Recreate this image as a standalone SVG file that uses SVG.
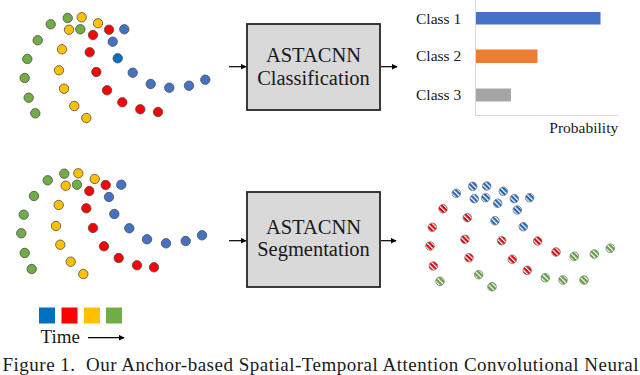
<svg xmlns="http://www.w3.org/2000/svg" width="640" height="375" viewBox="0 0 640 375">
<style>
text{font-family:'Liberation Serif',Tinos,'Times New Roman',Times,serif;fill:#1a1a1a}
.g{fill:#70ad47;stroke:#4d4d4d;stroke-width:0.8}
.y{fill:#ffc000;stroke:#4d4d4d;stroke-width:0.8}
.r{fill:#ff0000;stroke:#4d4d4d;stroke-width:0.8}
.b{fill:#4472c4;stroke:#4d4d4d;stroke-width:0.8}
.hb{fill:url(#hb);stroke:#7f7f7f;stroke-width:0.8}
.hr{fill:url(#hr);stroke:#7f7f7f;stroke-width:0.8}
.hg{fill:url(#hg);stroke:#7f7f7f;stroke-width:0.8}
.box{fill:#d9d9d9;stroke:#262626;stroke-width:1.8}
.ln{stroke:#000;stroke-width:1.2;fill:none}
.ax{stroke:#d9d9d9;stroke-width:1;fill:none}
</style>
<defs>
<marker id="ah" viewBox="0 0 10 10" refX="9" refY="5" markerWidth="6" markerHeight="6" markerUnits="userSpaceOnUse" orient="auto"><path d="M0,0 L10,5 L0,10 z" fill="#000"/></marker>
<pattern id="hb" patternUnits="userSpaceOnUse" width="3.5" height="3.5" patternTransform="rotate(-45)"><rect width="3.5" height="3.5" fill="#1f64b4"/><rect width="1.3" height="3.5" fill="#fff"/></pattern>
<pattern id="hr" patternUnits="userSpaceOnUse" width="3.5" height="3.5" patternTransform="rotate(-45)"><rect width="3.5" height="3.5" fill="#e00000"/><rect width="1.3" height="3.5" fill="#fff"/></pattern>
<pattern id="hg" patternUnits="userSpaceOnUse" width="3.5" height="3.5" patternTransform="rotate(-45)"><rect width="3.5" height="3.5" fill="#5f9e3a"/><rect width="1.3" height="3.5" fill="#fff"/></pattern>
</defs>
<rect width="640" height="375" fill="#fff"/>

<g id="input-top">
<circle class="g" cx="50.7" cy="24.3" r="4.7"/><circle class="g" cx="67.7" cy="18" r="4.7"/><circle class="g" cx="80.3" cy="29.3" r="4.7"/><circle class="g" cx="37.7" cy="40.3" r="4.7"/><circle class="g" cx="27.3" cy="59" r="4.7"/><circle class="g" cx="24.7" cy="78" r="4.7"/><circle class="g" cx="28.7" cy="97.7" r="4.7"/><circle class="g" cx="35.3" cy="113.3" r="4.7"/>
<circle class="y" cx="81.7" cy="17.3" r="4.7"/><circle class="y" cx="98" cy="23.3" r="4.7"/><circle class="y" cx="69" cy="29.7" r="4.7"/><circle class="y" cx="62" cy="49.3" r="4.7"/><circle class="y" cx="59" cy="70.3" r="4.7"/><circle class="y" cx="64" cy="88.7" r="4.7"/><circle class="y" cx="74.3" cy="106" r="4.7"/><circle class="y" cx="86.3" cy="118" r="4.7"/>
<circle class="r" cx="109" cy="29.7" r="4.7"/><circle class="r" cx="93" cy="35" r="4.7"/><circle class="r" cx="89.7" cy="52.3" r="4.7"/><circle class="r" cx="96.3" cy="72" r="4.7"/><circle class="r" cx="107" cy="90.3" r="4.7"/><circle class="r" cx="122.3" cy="102.3" r="4.7"/><circle class="r" cx="140.3" cy="109.3" r="4.7"/><circle class="r" cx="158" cy="112" r="4.7"/>
<circle class="b" cx="124.3" cy="29.3" r="4.7"/><circle class="b" cx="112.7" cy="41.7" r="4.7"/><circle class="b" cx="117.7" cy="58.3" r="4.7" style="fill:#0070c0"/><circle class="b" cx="132.7" cy="72.7" r="4.7"/><circle class="b" cx="150.7" cy="84" r="4.7"/><circle class="b" cx="169.3" cy="87.7" r="4.7"/><circle class="b" cx="189" cy="85.7" r="4.7"/><circle class="b" cx="205.3" cy="79.7" r="4.7"/>
</g>

<g id="input-bottom">
<circle class="g" cx="47.7" cy="180.3" r="4.7"/><circle class="g" cx="64.3" cy="173.7" r="4.7"/><circle class="g" cx="77" cy="184.7" r="4.7"/><circle class="g" cx="34" cy="196" r="4.7"/><circle class="g" cx="23.7" cy="214.7" r="4.7"/><circle class="g" cx="21.3" cy="233.3" r="4.7"/><circle class="g" cx="24.7" cy="253" r="4.7"/><circle class="g" cx="31.7" cy="269" r="4.7"/>
<circle class="y" cx="78.3" cy="173.3" r="4.7"/><circle class="y" cx="94.7" cy="179" r="4.7"/><circle class="y" cx="65.7" cy="185.7" r="4.7"/><circle class="y" cx="58.7" cy="205" r="4.7"/><circle class="y" cx="56" cy="226" r="4.7"/><circle class="y" cx="60.3" cy="244.7" r="4.7"/><circle class="y" cx="70.7" cy="261.7" r="4.7"/><circle class="y" cx="83.3" cy="274" r="4.7"/>
<circle class="r" cx="105.7" cy="185" r="4.7"/><circle class="r" cx="89.3" cy="191" r="4.7"/><circle class="r" cx="86.3" cy="208.3" r="4.7"/><circle class="r" cx="93" cy="228" r="4.7"/><circle class="r" cx="104" cy="246.3" r="4.7"/><circle class="r" cx="118.7" cy="258" r="4.7"/><circle class="r" cx="137" cy="265.3" r="4.7"/><circle class="r" cx="154" cy="267.3" r="4.7"/>
<circle class="b" cx="121.3" cy="184.7" r="4.7"/><circle class="b" cx="109" cy="197" r="4.7"/><circle class="b" cx="114.3" cy="214" r="4.7"/><circle class="b" cx="129.3" cy="228.3" r="4.7"/><circle class="b" cx="147" cy="239.3" r="4.7"/><circle class="b" cx="166" cy="243.3" r="4.7"/><circle class="b" cx="185.7" cy="241" r="4.7"/><circle class="b" cx="202" cy="235.3" r="4.7"/>
</g>

<g id="classification-box">
<rect class="box" x="247" y="24" width="133" height="86"/>
<text x="313.5" y="62" font-size="20.5" text-anchor="middle">ASTACNN</text>
<text x="313.5" y="85" font-size="20.5" text-anchor="middle">Classification</text>
</g>

<g id="segmentation-box">
<rect class="box" x="247" y="192" width="133" height="95"/>
<text x="313.5" y="234" font-size="20.5" text-anchor="middle">ASTACNN</text>
<text x="313.5" y="256" font-size="20.5" text-anchor="middle">Segmentation</text>
</g>

<g id="connectors">
<line class="ln" x1="229" y1="66.7" x2="246" y2="66.7" marker-end="url(#ah)"/>
<line class="ln" x1="381" y1="66.7" x2="397" y2="66.7" marker-end="url(#ah)"/>
<line class="ln" x1="229" y1="240.7" x2="246" y2="240.7" marker-end="url(#ah)"/>
<line class="ln" x1="381" y1="240.7" x2="396" y2="240.7" marker-end="url(#ah)"/>
</g>

<g id="probability-chart">
<line class="ax" x1="475.5" y1="0" x2="475.5" y2="115"/>
<line class="ax" x1="475" y1="115.5" x2="618" y2="115.5"/>
<rect x="476" y="12" width="124.5" height="12.5" fill="#4472c4"/>
<rect x="476" y="49.5" width="61.5" height="13.5" fill="#ed7d31"/>
<rect x="476" y="88.5" width="35" height="13" fill="#a5a5a5"/>
<text x="416" y="24.3" font-size="15.5">Class 1</text>
<text x="416" y="61" font-size="15.5">Class 2</text>
<text x="416" y="100" font-size="15.5">Class 3</text>
<text x="549.3" y="133.3" font-size="15.5">Probability</text>
</g>

<g id="output-segmented">
<circle class="hb" cx="456.3" cy="193.3" r="4.3"/><circle class="hb" cx="472.7" cy="186.3" r="4.3"/><circle class="hb" cx="486.7" cy="186" r="4.3"/><circle class="hb" cx="474.3" cy="198.7" r="4.3"/><circle class="hb" cx="485.7" cy="197.7" r="4.3"/><circle class="hb" cx="503.3" cy="191.3" r="4.3"/><circle class="hb" cx="514.3" cy="198.7" r="4.3"/><circle class="hb" cx="529.7" cy="197.7" r="4.3"/><circle class="hb" cx="497.7" cy="203.3" r="4.3"/><circle class="hb" cx="517.3" cy="210" r="4.3"/><circle class="hb" cx="495" cy="220.7" r="4.3"/><circle class="hb" cx="523.3" cy="226.7" r="4.3"/>
<circle class="hr" cx="443" cy="208.7" r="4.3"/><circle class="hr" cx="467.3" cy="217.7" r="4.3"/><circle class="hr" cx="432.3" cy="227.3" r="4.3"/><circle class="hr" cx="465" cy="239.3" r="4.3"/><circle class="hr" cx="501.7" cy="240.7" r="4.3"/><circle class="hr" cx="537.7" cy="241" r="4.3"/><circle class="hr" cx="430" cy="246" r="4.3"/><circle class="hr" cx="469" cy="257.7" r="4.3"/><circle class="hr" cx="512.3" cy="259.3" r="4.3"/><circle class="hr" cx="556" cy="252" r="4.3"/><circle class="hr" cx="433.3" cy="266" r="4.3"/><circle class="hr" cx="527.3" cy="270.3" r="4.3"/>
<circle class="hg" cx="574.3" cy="256.3" r="4.3"/><circle class="hg" cx="594.3" cy="254" r="4.3"/><circle class="hg" cx="610.3" cy="248.3" r="4.3"/><circle class="hg" cx="440" cy="281.3" r="4.3"/><circle class="hg" cx="478.7" cy="274.7" r="4.3"/><circle class="hg" cx="492" cy="286.7" r="4.3"/><circle class="hg" cx="545.3" cy="277.7" r="4.3"/><circle class="hg" cx="563" cy="280" r="4.3"/><circle class="hg" cx="584" cy="280" r="4.3"/>
</g>

<g id="time-legend">
<rect x="39" y="307.5" width="16" height="16" fill="#0070c0"/>
<rect x="61.5" y="307.5" width="16" height="16" fill="#ff0000"/>
<rect x="84" y="307.5" width="16" height="16" fill="#ffc000"/>
<rect x="106" y="307.5" width="16" height="16" fill="#70ad47"/>
<text x="40.5" y="343.3" font-size="19">Time</text>
<line class="ln" x1="88" y1="337.7" x2="124" y2="337.7" marker-end="url(#ah)"/>
</g>

<g id="caption">
<text x="2.5" y="370.8" font-size="19" textLength="636" lengthAdjust="spacing">Figure 1.&#160; Our Anchor-based Spatial-Temporal Attention Convolutional Neural</text>
</g>
</svg>
